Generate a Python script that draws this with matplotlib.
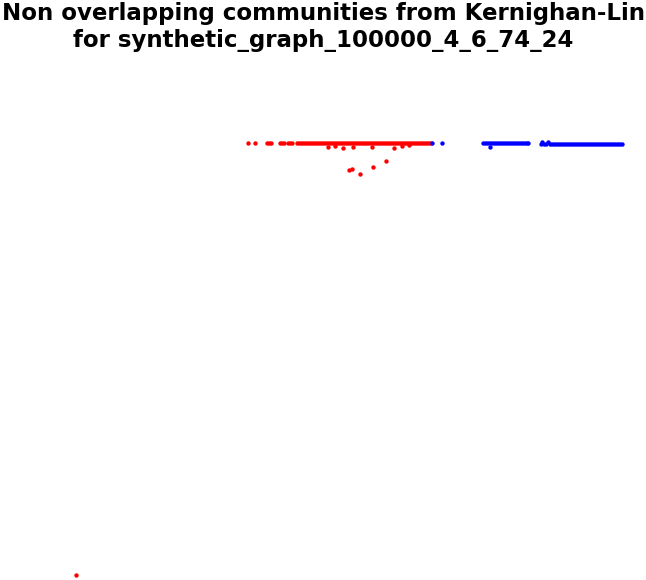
import matplotlib.pyplot as plt

# node positions (pixel-like units, y grows downward)
red_x = [248, 255, 267, 269, 271, 280, 282, 284, 288, 290, 292,
         297, 299, 301, 303, 305, 307, 309, 311, 313, 315, 317, 319, 321,
         323, 325, 327, 329, 331, 333, 335, 337, 339, 341, 343, 345, 347,
         349, 351, 353, 355, 357, 359, 361, 363, 365, 367, 369, 371, 373,
         375, 377, 379, 381, 383, 385, 387, 389, 391, 393, 395, 397, 399,
         401, 403, 405, 407, 409, 411, 413, 415, 417, 419, 421, 423, 425,
         427, 429, 431,
         328, 335, 343, 353, 372, 394, 402, 409,
         349, 352, 360, 373, 386,
         76]
red_y = [143, 143, 143, 143, 143, 143, 143, 143, 143, 143, 143,
         143, 143, 143, 143, 143, 143, 143, 143, 143, 143, 143, 143, 143,
         143, 143, 143, 143, 143, 143, 143, 143, 143, 143, 143, 143, 143,
         143, 143, 143, 143, 143, 143, 143, 143, 143, 143, 143, 143, 143,
         143, 143, 143, 143, 143, 143, 143, 143, 143, 143, 143, 143, 143,
         143, 143, 143, 143, 143, 143, 143, 143, 143, 143, 143, 143, 143,
         143, 143, 143,
         147, 146, 148, 147, 147, 148, 146, 145,
         170, 169, 174, 167, 161,
         575]

blue_x = [432, 442,
          483, 485, 487, 489, 491, 493, 495, 497, 499, 501, 503, 505, 507,
          509, 511, 513, 515, 517, 519, 521, 523, 525, 527, 528, 490,
          541, 542, 544, 546, 548, 550, 552, 554, 556, 558, 560, 562, 564,
          566, 568, 570, 572, 574, 576, 578, 580, 582, 584, 586, 588, 590,
          592, 594, 596, 598, 600, 602, 604, 606, 608, 610, 612, 614, 616,
          618, 620, 622]
blue_y = [143, 143,
          143, 143, 143, 143, 143, 143, 143, 143, 143, 143, 143, 143, 143,
          143, 143, 143, 143, 143, 143, 143, 143, 143, 143, 143, 147,
          144, 142, 144, 144, 142, 144, 144, 144, 144, 144, 144, 144, 144,
          144, 144, 144, 144, 144, 144, 144, 144, 144, 144, 144, 144, 144,
          144, 144, 144, 144, 144, 144, 144, 144, 144, 144, 144, 144, 144,
          144, 144, 144]

fig = plt.figure(figsize=(6.46, 5.8), dpi=100)
ax = fig.add_axes([0, 0, 1, 1])
ax.scatter(red_x, red_y, s=10, color='red', linewidths=0)
ax.scatter(blue_x, blue_y, s=10, color='blue', linewidths=0)
ax.set_xlim(0, 646)
ax.set_ylim(580, 0)
ax.axis('off')

fig.text(0.5, 1 - 27 / 580,
         'Non overlapping communities from Kernighan-Lin\nfor synthetic_graph_100000_4_6_74_24',
         ha='center', va='center', fontsize=16.5, fontweight='bold',
         linespacing=1.2)

fig.savefig('out.png', dpi=100)
